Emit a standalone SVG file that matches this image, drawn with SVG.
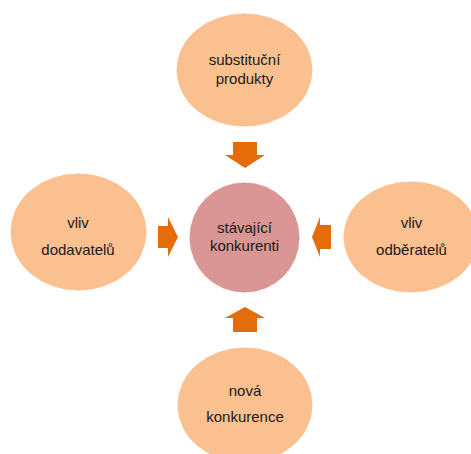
<svg xmlns="http://www.w3.org/2000/svg" width="471" height="454" viewBox="0 0 471 454">
<style>
.outer{fill:#FAC090;stroke:#FFFFFF;stroke-width:1}
.center{fill:#D99694;stroke:#FFFFFF;stroke-width:1}
.arrow{fill:#E46C0A}
text{font-family:"Liberation Sans",Arial,sans-serif;font-size:15px;fill:#1A1A1A;text-anchor:middle}
</style>
<rect width="471" height="454" fill="#FFFFFF"/>
<g id="connectors">
<polygon class="arrow" points="233,142 257,142 257,155 265,155 245,168 225,155 233,155"/>
<polygon class="arrow" points="233,332 257,332 257,318 265,318 245,307 225,318 233,318"/>
<polygon class="arrow" points="158,226 168,226 168,217 178,237 168,257 168,248 158,248"/>
<polygon class="arrow" points="331,225 320,225 320,217 312,237 320,257 320,249 331,249"/>
</g>
<g id="node-top">
<ellipse class="outer" cx="244.5" cy="70" rx="68.5" ry="57"/>
<text x="244.5" y="65">substituční</text>
<text x="244.5" y="84">produkty</text>
</g>
<g id="node-left">
<ellipse class="outer" cx="78.5" cy="232" rx="68.5" ry="59"/>
<text x="78" y="228">vliv</text>
<text x="78" y="255">dodavatelů</text>
</g>
<g id="node-right">
<ellipse class="outer" cx="411" cy="237" rx="68" ry="56"/>
<text x="411.5" y="228">vliv</text>
<text x="411.5" y="255">odběratelů</text>
</g>
<g id="node-bottom">
<ellipse class="outer" cx="245" cy="405" rx="68" ry="58"/>
<text x="245" y="396">nová</text>
<text x="245" y="422">konkurence</text>
</g>
<g id="node-center">
<circle class="center" cx="244.5" cy="237.5" r="55.5"/>
<text x="244.5" y="233">stávající</text>
<text x="244.5" y="251">konkurenti</text>
</g>
</svg>
